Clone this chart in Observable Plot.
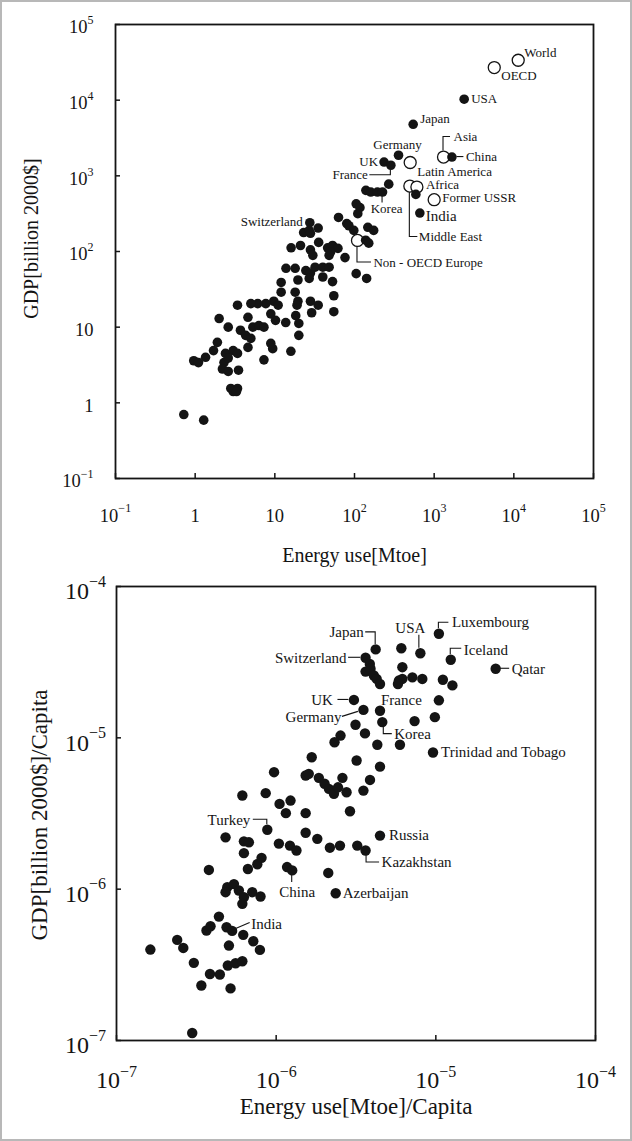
<!DOCTYPE html>
<html><head><meta charset="utf-8">
<script src="https://cdn.jsdelivr.net/npm/d3@7"></script>
<script src="https://cdn.jsdelivr.net/npm/@observablehq/plot@0.6"></script>
<style>
html,body{margin:0;padding:0;background:#fff;}
#wrap{position:relative;width:632px;height:1141px;overflow:hidden;background:#fff;}
#top,#bottom{position:absolute;left:0;}
#top{top:0;} #bottom{top:570px;}
#border{position:absolute;left:0;top:0;width:632px;height:1141px;box-sizing:border-box;border:2px solid #b8b8b8;pointer-events:none;}
</style></head><body>
<div id="wrap"><div id="top"></div><div id="bottom"></div><div id="border"></div></div>
<script>
// ---------------- DATA: top panel (Energy use [Mtoe] vs GDP [billion 2000$]) ----------------
const topCountryNames  = ["USA","Japan","China","Germany","UK","France","India","Korea","Switzerland"];
const topCountryEnergy = [2380, 545, 1670, 357, 235, 286, 661, 225, 27.5];
const topCountryGDP    = [10300, 4800, 1770, 1870, 1520, 1380, 322, 611, 240];

const topRegionNames  = ["World","OECD","Asia","Latin America","Middle East","Africa","Former USSR","Non - OECD Europe"];
const topRegionEnergy = [11350, 5680, 1310, 500, 495, 607, 1000, 109];
const topRegionGDP    = [33700, 27000, 1770, 1500, 733, 711, 484, 140];

const topOtherEnergy = [139,160,194,269,589,105,117,110,63,80,85,98,147,174,138,151,23,27,35,28,35.5,21,16,28,30,46,53,62,50,48,76,13.8,18,24.5,28,32,40,48,19.5,27,40,53,105,142,12,12,18,19.5,9.7,7.7,6.1,28,55,55,35,29,19,3.4,5.0,11,8.9,10.2,13.7,18.3,20,20,2.0,2.6,3.7,4.6,5.3,6.3,7.3,4.3,5.0,4.6,8.9,9.4,15.9,1.9,1.7,2.4,3.0,3.4,0.96,1.1,1.35,2.3,2.2,2.6,3.5,2.6,7.3,2.8,3.4,3.0,3.3,0.72,1.28];
const topOtherGDP    = [643,611,611,776,568,427,380,316,282,234,219,190,209,190,141,129,178,190,204,174,132,120,112,105,89,112,120,110,98,89,83,60,60,56,52,62,62,62,42,44,46,40,51,44,39,29,29,22,22,20.5,20.5,22,26,16,19.5,15.5,19.5,19.5,20.5,19.5,15,12.3,11.5,14.2,11.2,7.8,13,10,9.1,13.5,10,10.5,10,7.8,7.1,5.4,6.1,5.2,4.8,6.3,4.9,4.5,4.9,4.5,3.6,3.4,4.0,3.4,2.8,2.6,2.7,3.9,3.7,1.55,1.55,1.41,1.41,0.70,0.59];

const topXTicks = [0.1, 1, 10, 100, 1000, 10000, 100000];
const topXTickLabels = ["10^−1","1","10","10^2","10^3","10^4","10^5"];
const topYTicks = [0.1, 1, 10, 100, 1000, 10000, 100000];
const topYTickLabels = ["10^−1","1","10","10^2","10^3","10^4","10^5"];

// ---------------- DATA: bottom panel (per capita) ----------------
const botCountryNames  = ["Luxembourg","USA","Japan","Switzerland","Iceland","Qatar","UK","Germany","France","Korea","Trinidad and Tobago","Turkey","Russia","Kazakhstan","China","Azerbaijan","India"];
const botCountryEnergy = [1.045e-5,8.0e-6,4.2e-6,3.63e-6,1.24e-5,2.37e-5,3.07e-6,3.52e-6,4.47e-6,4.62e-6,9.6e-6,8.8e-7,4.47e-6,3.63e-6,1.26e-6,2.36e-6,5.3e-7];
const botCountryGDP    = [4.87e-5,3.62e-5,3.84e-5,3.38e-5,3.28e-5,2.86e-5,1.78e-5,1.53e-5,1.51e-5,1.27e-5,8.0e-6,2.47e-6,2.26e-6,1.8e-6,1.33e-6,9.4e-7,5.3e-7];

const botOtherEnergy = [6.08e-6,3.86e-6,3.63e-6,3.9e-6,4.09e-6,4.26e-6,4.47e-6,6.17e-6,5.87e-6,6.17e-6,5.79e-6,7.13e-6,8.23e-6,1.107e-5,1.27e-5,3.14e-6,3.6e-6,7.36e-6,1.045e-5,9.86e-6,4.3e-6,5.96e-6,2.53e-6,2.32e-6,1.67e-6,3.19e-6,4.47e-6,9.7e-7,1.53e-6,1.6e-6,1.85e-6,2.01e-6,2.14e-6,2.3e-6,2.44e-6,2.6e-6,2.76e-6,3.52e-6,3.87e-6,8.6e-7,6.14e-7,1.05e-6,1.15e-6,1.23e-6,1.53e-6,2.9e-6,1.53e-6,1.81e-6,1.04e-6,1.22e-6,1.34e-6,2.17e-6,2.51e-6,3.22e-6,1.17e-6,2.12e-6,4.82e-7,6.28e-7,6.75e-7,6.28e-7,3.79e-7,6.65e-7,7.62e-7,8.1e-7,4.94e-7,5.44e-7,5.84e-7,6.28e-7,6.14e-7,7.08e-7,7.98e-7,4.82e-7,4.38e-7,3.66e-7,3.88e-7,4.89e-7,6.22e-7,7.19e-7,7.91e-7,2.4e-7,2.62e-7,1.63e-7,5.06e-7,3.05e-7,4.98e-7,5.57e-7,6.14e-7,3.85e-7,4.44e-7,3.4e-7,5.18e-7,2.98e-7];
const botOtherGDP    = [3.91e-5,3.08e-5,2.74e-5,2.86e-5,2.58e-5,2.45e-5,2.27e-5,2.93e-5,2.39e-5,2.45e-5,2.27e-5,2.51e-5,2.45e-5,2.42e-5,2.22e-5,1.22e-5,1.07e-5,1.29e-5,1.77e-5,1.37e-5,9.0e-6,9.0e-6,1.035e-5,9.35e-6,7.44e-6,7.08e-6,6.45e-6,5.93e-6,5.64e-6,5.78e-6,5.44e-6,4.97e-6,4.6e-6,4.27e-6,4.71e-6,5.44e-6,4.37e-6,4.48e-6,5.27e-6,4.31e-6,4.16e-6,3.66e-6,3.18e-6,3.85e-6,3.18e-6,3.27e-6,2.36e-6,2.15e-6,2.0e-6,1.94e-6,1.8e-6,1.88e-6,1.94e-6,1.94e-6,1.4e-6,1.28e-6,2.2e-6,2.07e-6,2.04e-6,1.73e-6,1.34e-6,1.36e-6,1.46e-6,1.61e-6,1.03e-6,1.08e-6,9.8e-7,8.84e-7,8.0e-7,9.55e-7,8.94e-7,9.55e-7,6.59e-7,5.33e-7,5.69e-7,5.6e-7,4.99e-7,4.53e-7,3.97e-7,4.62e-7,4.09e-7,3.99e-7,4.24e-7,3.26e-7,3.13e-7,3.24e-7,3.34e-7,2.75e-7,2.73e-7,2.31e-7,2.21e-7,1.12e-7];

const botXTicks = [1e-7, 1e-6, 1e-5, 1e-4];
const botXTickLabels = ["10^−7","10^−6","10^−5","10^−4"];
const botYTicks = [1e-7, 1e-6, 1e-5, 1e-4];
const botYTickLabels = ["10^−7","10^−6","10^−5","10^−4"];

// ---------------- annotation layout (pixel offsets from each labelled point) ----------------
const topLabelLayout = {
  "World": {dx:6, dy:-7, anchor:"start"},
  "OECD": {dx:7, dy:8, anchor:"start"},
  "USA": {dx:7, dy:0, anchor:"start"},
  "Japan": {dx:7, dy:-5, anchor:"start"},
  "Asia": {dx:10, dy:-20, anchor:"start", leader:[[0,-6],[0,-20],[7,-20]]},
  "China": {dx:14, dy:0, anchor:"start", leader:[[5,0],[12,0]]},
  "Germany": {dx:-1, dy:-10, anchor:"middle"},
  "UK": {dx:-6, dy:0, anchor:"end"},
  "France": {dx:-23, dy:10, anchor:"end", leader:[[0,5],[0,10],[-21,10]]},
  "Latin America": {dx:7, dy:9, anchor:"start"},
  "Middle East": {dx:9, dy:51, anchor:"start", leader:[[0,6],[0,51],[8,51]]},
  "Africa": {dx:9, dy:-2, anchor:"start"},
  "Former USSR": {dx:8, dy:-2, anchor:"start"},
  "India": {dx:6, dy:3, anchor:"start", size:15},
  "Korea": {dx:4, dy:17, anchor:"middle", leader:[[0,4.5],[0,11]]},
  "Switzerland": {dx:-7, dy:-1, anchor:"end"},
  "Non - OECD Europe": {dx:16, dy:22, anchor:"start", leader:[[0,6],[0,22],[14,22]]}
};
const botLabelLayout = {
  "Luxembourg": {dx:13, dy:-12, anchor:"start", leader:[[0,-5],[0,-11],[10,-11]]},
  "USA": {dx:-10, dy:-25, anchor:"middle", leader:[[-1,-5],[-1,-18]]},
  "Japan": {dx:-12, dy:-17, anchor:"end", leader:[[0,-5],[0,-17],[-10,-17]]},
  "Switzerland": {dx:-19, dy:0, anchor:"end", leader:[[-5,0],[-17,0]]},
  "Iceland": {dx:13, dy:-10, anchor:"start", leader:[[0,-5],[0,-11],[11,-11]]},
  "Qatar": {dx:16, dy:0, anchor:"start", leader:[[5,0],[14,0]]},
  "UK": {dx:-21, dy:0, anchor:"end", leader:[[-5,0],[-16,0]]},
  "Germany": {dx:-22, dy:7, anchor:"end", leader:[[-5,2],[-21,7]]},
  "France": {dx:1, dy:-11, anchor:"start"},
  "Korea": {dx:12, dy:12, anchor:"start", leader:[[1.5,5],[1.5,12],[10,12]]},
  "Trinidad and Tobago": {dx:8, dy:0, anchor:"start"},
  "Turkey": {dx:-17, dy:-10, anchor:"end", leader:[[0,-5],[0,-10],[-14,-10]]},
  "Russia": {dx:9, dy:0, anchor:"start"},
  "Kazakhstan": {dx:16, dy:12, anchor:"start", leader:[[1,5],[1,12],[14,12]]},
  "China": {dx:5, dy:22, anchor:"middle", leader:[[0,5],[0,12]]},
  "Azerbaijan": {dx:7, dy:0, anchor:"start"},
  "India": {dx:19, dy:-7, anchor:"start", leader:[[4,-2],[18,-8]]}
};

// ---------------- helpers ----------------
const FONT = '"Liberation Serif","Times New Roman",serif';
const INK = "#141414";
const zip = (names, xs, ys) => xs.map((x, i) => ({name: names ? names[i] : null, x, y: ys[i]}));
const expWidth = s => [...s].reduce((w, c) => w + (c === "−" ? 0.564 : 0.5), 0);
const T = {lineAnchor: "middle", fill: INK};

function tickLabelMarks(ticks, labels, axis, c) {
  const marks = [];
  ticks.forEach((v, i) => {
    const lab = labels[i];
    if (axis === "x") {
      if (lab.includes("^")) {
        const [b, e] = lab.split("^");
        const wb = expWidth(b) * c.fsBase, we = expWidth(e) * c.fsExp;
        const bend = -(wb + we) / 2 + wb;
        marks.push(Plot.text([v], {...T, x: d => d, frameAnchor: "bottom", text: () => b, textAnchor: "end", dx: bend, dy: c.xBaseDy, fontSize: c.fsBase}));
        marks.push(Plot.text([v], {...T, x: d => d, frameAnchor: "bottom", text: () => e, textAnchor: "start", dx: bend, dy: c.xExpDy, fontSize: c.fsExp}));
      } else {
        marks.push(Plot.text([v], {...T, x: d => d, frameAnchor: "bottom", text: () => lab, textAnchor: "middle", dy: c.xBaseDy, fontSize: c.fsPlain || c.fsBase}));
      }
    } else {
      if (lab.includes("^")) {
        const [b, e] = lab.split("^");
        const we = expWidth(e) * c.fsExp;
        marks.push(Plot.text([v], {...T, y: d => d, frameAnchor: "left", text: () => e, textAnchor: "end", dx: c.yRight, dy: c.yExpDy, fontSize: c.fsExp}));
        marks.push(Plot.text([v], {...T, y: d => d, frameAnchor: "left", text: () => b, textAnchor: "end", dx: c.yRight - we, dy: c.yBaseDy, fontSize: c.fsBase}));
      } else {
        marks.push(Plot.text([v], {...T, y: d => d, frameAnchor: "left", text: () => lab, textAnchor: "end", dx: c.yRight, dy: c.yBaseDy, fontSize: c.fsPlain || c.fsBase}));
      }
    }
  });
  return marks;
}

function labelMarks(rows, layout, size) {
  return rows.filter(r => layout[r.name]).map(r => {
    const L = layout[r.name];
    return Plot.text([r], {...T, x: "x", y: "y", text: "name", dx: L.dx, dy: L.dy, textAnchor: L.anchor, fontSize: L.size || size});
  });
}

function leaderMark(rows, layout) {
  return (index, scales) => {
    const g = d3.create("svg:g").attr("fill", "none").attr("stroke", INK).attr("stroke-width", 1.1);
    rows.forEach(r => {
      const L = layout[r.name];
      if (!L || !L.leader) return;
      const cx = scales.x(r.x), cy = scales.y(r.y);
      g.append("path").attr("d", "M" + L.leader.map(([a, b]) => `${cx + a},${cy + b}`).join("L"));
    });
    return g.node();
  };
}

function panel(o) {
  const fw = o.width - o.ml - o.mr, fh = o.height - o.mt - o.mb;
  return Plot.plot({
    width: o.width, height: o.height,
    marginLeft: o.ml, marginRight: o.mr, marginTop: o.mt, marginBottom: o.mb,
    style: {fontFamily: FONT, background: "transparent", color: INK, overflow: "visible"},
    x: {type: "log", domain: o.xDomain, axis: null},
    y: {type: "log", domain: o.yDomain, axis: null},
    marks: [
      Plot.tickX(o.xTicks, {x: d => d, insetTop: fh - 5, stroke: INK, strokeWidth: 1.5}),
      Plot.tickY(o.yTicks, {y: d => d, insetRight: fw - 5, stroke: INK, strokeWidth: 1.5}),
      ...tickLabelMarks(o.xTicks, o.xTickLabels, "x", o.tl),
      ...tickLabelMarks(o.yTicks, o.yTickLabels, "y", o.tl),
      Plot.text([o.xTitle], {...T, frameAnchor: "bottom", text: d => d, textAnchor: "middle", dy: o.xTitleDy, fontSize: o.titleSize}),
      Plot.text([o.yTitle], {...T, frameAnchor: "left", text: d => d, textAnchor: "middle", dx: o.yTitleDx, dy: o.yTitleDy, rotate: -90, fontSize: o.titleSize}),
      leaderMark(o.labelled, o.layout),
      ...(o.open ? [Plot.dot(o.open, {x: "x", y: "y", r: o.openR, fill: "white", stroke: INK, strokeWidth: 1.3})] : []),
      Plot.dot(o.filled, {x: "x", y: "y", r: o.r, fill: INK, stroke: "none"}),
      ...labelMarks(o.labelled, o.layout, o.labelSize),
      Plot.frame({stroke: INK, strokeWidth: 1.8})
    ]
  });
}

// ---------------- build ----------------
const topCountries = zip(topCountryNames, topCountryEnergy, topCountryGDP);
const topRegions = zip(topRegionNames, topRegionEnergy, topRegionGDP);
const topOthers = zip(null, topOtherEnergy, topOtherGDP);

document.getElementById("top").append(panel({
  width: 632, height: 570, ml: 115, mr: 39, mt: 24, mb: 92,
  xDomain: [0.1, 1e5], yDomain: [0.1, 1e5],
  xTicks: topXTicks, xTickLabels: topXTickLabels, yTicks: topYTicks, yTickLabels: topYTickLabels,
  tl: {fsBase: 18.5, fsExp: 12, fsPlain: 18.5, xBaseDy: 38, xExpDy: 30, yRight: -22, yBaseDy: 3, yExpDy: -4},
  xTitle: "Energy use[Mtoe]", yTitle: "GDP[billion 2000$]",
  xTitleDy: 77, yTitleDx: -84, yTitleDy: -13, titleSize: 20,
  open: topRegions, openR: 6,
  filled: [...topOthers, ...topCountries], r: 4.8,
  labelled: [...topCountries, ...topRegions], layout: topLabelLayout, labelSize: 13
}));

const botCountries = zip(botCountryNames, botCountryEnergy, botCountryGDP);
const botOthers = zip(null, botOtherEnergy, botOtherGDP);

document.getElementById("bottom").append(panel({
  width: 632, height: 571, ml: 116, mr: 37, mt: 16, mb: 101,
  xDomain: [1e-7, 1e-4], yDomain: [1e-7, 1e-4],
  xTicks: botXTicks, xTickLabels: botXTickLabels, yTicks: botYTicks, yTickLabels: botYTickLabels,
  tl: {fsBase: 24, fsExp: 16, xBaseDy: 40, xExpDy: 31, yRight: -10.5, yBaseDy: 5, yExpDy: -5},
  xTitle: "Energy use[Mtoe]/Capita", yTitle: "GDP[billion 2000$]/Capita",
  xTitleDy: 66, yTitleDx: -77, yTitleDy: 1.5, titleSize: 23,
  open: null, openR: 6,
  filled: [...botOthers, ...botCountries], r: 5.2,
  labelled: botCountries, layout: botLabelLayout, labelSize: 15
}));
</script></body></html>
